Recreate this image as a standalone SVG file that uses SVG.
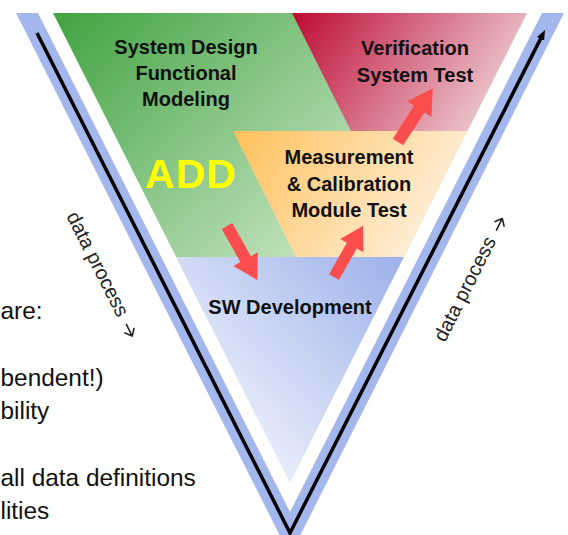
<svg xmlns="http://www.w3.org/2000/svg" xmlns:xlink="http://www.w3.org/1999/xlink" width="568" height="535" viewBox="0 0 568 535">
  <style>
    .title { font-family: "Liberation Sans", Arial, sans-serif; font-weight: bold; font-size: 20px; fill: #111; text-anchor: middle; }
    .body { font-family: "Liberation Sans", Arial, sans-serif; font-size: 24.4px; fill: #111; }
    .side { font-family: "Liberation Sans", Arial, sans-serif; font-size: 20px; fill: #222; }
    .sidearrow { fill: none; stroke: #222; stroke-width: 1.6; stroke-linecap: round; stroke-linejoin: round; }
    .redarrow { fill: #fa4d4d; }
  </style>
  <defs>
    <linearGradient id="gGreen" gradientUnits="userSpaceOnUse" x1="70" y1="13" x2="300" y2="265">
      <stop offset="0" stop-color="#45a545"/>
      <stop offset="1" stop-color="#c3e2bf"/>
    </linearGradient>
    <linearGradient id="gPink" gradientUnits="userSpaceOnUse" x1="300" y1="13" x2="500" y2="150">
      <stop offset="0" stop-color="#bf1038"/>
      <stop offset="1" stop-color="#f2e1e4"/>
    </linearGradient>
    <linearGradient id="gOrange" gradientUnits="userSpaceOnUse" x1="240" y1="131" x2="440" y2="262">
      <stop offset="0" stop-color="#ffc25e"/>
      <stop offset="1" stop-color="#fff3e6"/>
    </linearGradient>
    <linearGradient id="gBlue" gradientUnits="userSpaceOnUse" x1="400" y1="257" x2="210" y2="430">
      <stop offset="0" stop-color="#9db1ea"/>
      <stop offset="1" stop-color="#eef2fc"/>
    </linearGradient>
    <marker id="ah" viewBox="0 0 10 8" refX="2" refY="4" markerWidth="10" markerHeight="8" orient="auto" markerUnits="userSpaceOnUse">
      <path d="M0,0 L10,4 L0,8 Z" fill="#000"/>
    </marker>
    <path id="bigArrow" d="M0,-6 L38,-6 L38,-14 L62,0 L38,14 L38,6 L0,6 Z"/>
    <path id="smallArrow" d="M124,-5 L137,-5 M131,-10 L137,-5 L131,0"/>
  </defs>

  <rect width="568" height="535" fill="#fff"/>

  <!-- outer blue V band -->
  <g id="band">
    <path d="M16,13 L279.6,535 L300.4,535 L564,13 L542,13 L290,512 L38,13 Z" fill="#a3b7ed"/>
  </g>

  <g id="system-design">
    <polygon points="53,13 527,13 290,482.3" fill="url(#gGreen)"/>
    <text class="title" x="186" y="54">System Design</text>
    <text class="title" x="186" y="80">Functional</text>
    <text class="title" x="186" y="106">Modeling</text>
    <text x="191" y="188" font-family="Liberation Sans, Arial, sans-serif" font-weight="bold" font-size="41" fill="#ffff00" text-anchor="middle" letter-spacing="1">ADD</text>
  </g>

  <g id="verification">
    <polygon points="292,13 527,13 467.4,131 351,131" fill="url(#gPink)"/>
    <text class="title" x="415" y="55">Verification</text>
    <text class="title" x="415" y="82">System Test</text>
  </g>

  <g id="measurement">
    <polygon points="233,131 467.4,131 403.8,257 296,257" fill="url(#gOrange)"/>
    <text class="title" x="349" y="164">Measurement</text>
    <text class="title" x="349" y="191">&amp; Calibration</text>
    <text class="title" x="349" y="217">Module Test</text>
  </g>

  <g id="sw-development">
    <polygon points="176.2,257 403.8,257 290,482.3" fill="url(#gBlue)"/>
    <text class="title" x="290" y="314">SW Development</text>
  </g>

  <g id="connectors">
    <polyline points="37,33 290,533 541.4,37.1" fill="none" stroke="#000" stroke-width="3.5" stroke-linejoin="miter" marker-end="url(#ah)"/>
    <use xlink:href="#bigArrow" class="redarrow" transform="translate(227,226) rotate(60.6)"/>
    <use xlink:href="#bigArrow" class="redarrow" transform="translate(334,277) rotate(-60.4) scale(0.95)"/>
    <use xlink:href="#bigArrow" class="redarrow" transform="translate(398,142) rotate(-57) scale(1.03)"/>
  </g>

  <g id="side-labels">
    <g transform="translate(66,216) rotate(63.2)">
      <text class="side" x="0" y="0">data process</text>
      <use xlink:href="#smallArrow" class="sidearrow"/>
    </g>
    <g transform="translate(445,343) rotate(-63.2)">
      <text class="side" x="0" y="0">data process</text>
      <use xlink:href="#smallArrow" class="sidearrow"/>
    </g>
  </g>

  <g id="left-text">
    <text class="body" x="0.5" y="319">are:</text>
    <text class="body" x="0.5" y="386">bendent!)</text>
    <text class="body" x="0.5" y="419">bility</text>
    <text class="body" x="0.5" y="486">all data definitions</text>
    <text class="body" x="0.5" y="519">lities</text>
  </g>
</svg>
